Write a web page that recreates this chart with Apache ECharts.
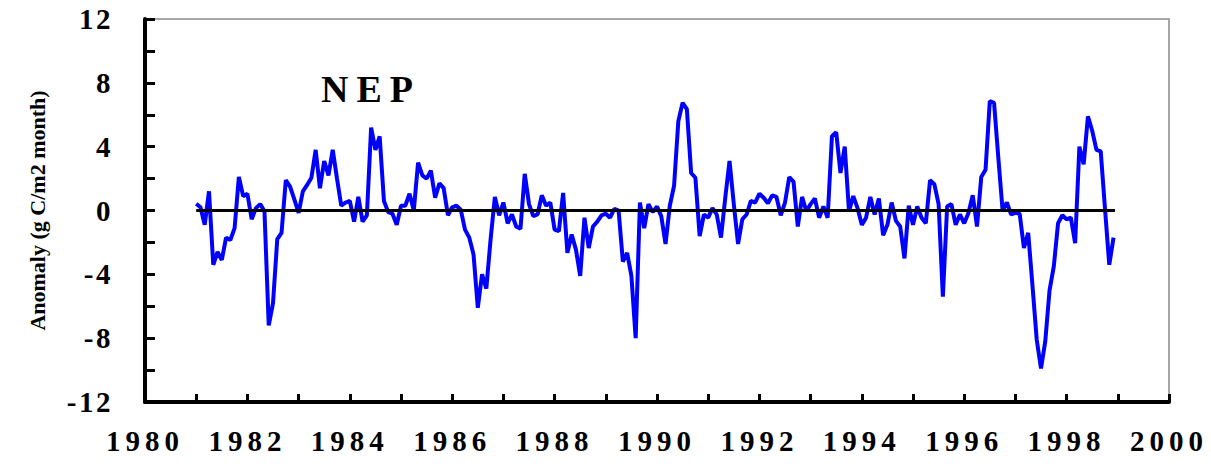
<!DOCTYPE html>
<html>
<head>
<meta charset="utf-8">
<script src="https://cdn.jsdelivr.net/npm/echarts@6/dist/echarts.min.js"></script>
<style>
  html, body { margin: 0; padding: 0; background: #ffffff; }
  #chart { width: 1211px; height: 468px; }
</style>
</head>
<body>
<div id="chart"></div>
<script>
// Monthly NEP anomaly series, January 1981 to December 1998 (g C/m2 month)
const startYear = 1981;
const nepAnomaly = [
  // 1981
  0.42, 0.2, -0.9, 1.2, -3.4, -2.6, -3.1, -1.7, -1.85, -1.1, 2.1, 0.9,
  // 1982
  1.05, -0.55, 0.15, 0.4, -0.05, -7.2, -5.8, -1.8, -1.4, 1.9, 1.5, 0.7,
  // 1983
  -0.15, 1.2, 1.6, 2.05, 3.8, 1.4, 3.1, 2.2, 3.8, 2.0, 0.3, 0.5,
  // 1984
  0.6, -0.7, 0.85, -0.7, -0.3, 5.2, 3.8, 4.65, 0.6, -0.1, -0.2, -0.9,
  // 1985
  0.3, 0.3, 1.05, 0.0, 3.0, 2.2, 2.0, 2.5, 0.8, 1.7, 1.4, -0.3,
  // 1986
  0.2, 0.3, 0.05, -1.2, -1.7, -2.75, -6.1, -4.0, -4.9, -1.8, 0.85, -0.3,
  // 1987
  0.5, -0.8, -0.25, -1.0, -1.15, 2.3, 0.4, -0.35, -0.25, 0.95, 0.3, 0.5,
  // 1988
  -1.2, -1.3, 1.1, -2.65, -1.5, -2.45, -4.1, -0.45, -2.35, -1.0, -0.7, -0.3,
  // 1989
  -0.2, -0.45, 0.1, 0.0, -3.2, -2.65, -4.1, -8.0, 0.5, -1.1, 0.4, -0.1,
  // 1990
  0.25, -0.35, -2.1, 0.3, 1.55, 5.6, 6.75, 6.35, 2.35, 2.05, -1.6, -0.25,
  // 1991
  -0.45, 0.15, -0.25, -1.7, 0.8, 3.1, 0.4, -2.1, -0.55, -0.25, 0.6, 0.5,
  // 1992
  1.05, 0.8, 0.45, 0.95, 0.85, -0.3, 0.5, 2.1, 1.8, -1.0, 0.85, -0.05,
  // 1993
  0.4, 0.75, -0.45, 0.25, -0.45, 4.65, 4.9, 2.35, 4.0, -0.05, 0.9, 0.15,
  // 1994
  -0.9, -0.45, 0.85, -0.25, 0.75, -1.55, -0.9, 0.5, -0.65, -1.0, -3.0, 0.3,
  // 1995
  -0.9, 0.25, -0.45, -0.8, 1.9, 1.65, 0.4, -5.4, 0.25, 0.4, -0.9, -0.25,
  // 1996
  -0.8, -0.15, 0.95, -1.0, 2.1, 2.55, 6.85, 6.75, 3.3, 0.0, 0.5, -0.25,
  // 1997
  -0.15, -0.2, -2.35, -1.4, -4.7, -8.1, -9.9, -8.2, -5.0, -3.5, -0.8, -0.3,
  // 1998
  -0.55, -0.45, -2.05, 4.0, 2.9, 5.9, 5.0, 3.8, 3.7, 0.1, -3.4, -1.7
];
const baseline = 0;
const xTickLabels = ['1980', '1982', '1984', '1986', '1988', '1990', '1992', '1994', '1996', '1998', '2000'];
const yTickLabels = ['-12', '-8', '-4', '0', '4', '8', '12'];
const panelTitle = 'NEP';
const yAxisTitle = 'Anomaly (g C/m2 month)';

const serif = "'Liberation Serif', 'Times New Roman', serif";

// [decimal year, value] pairs for the monthly series
const nepPoints = nepAnomaly.map((v, i) => [startYear + i / 12, v]);
const baselinePoints = [
  [nepPoints[0][0], baseline],
  [nepPoints[nepPoints.length - 1][0] + 0.03, baseline]
];

const chart = echarts.init(document.getElementById('chart'), null, { renderer: 'svg' });

chart.setOption({
  animation: false,
  backgroundColor: '#ffffff',
  grid: {
    left: 145, right: 42, top: 19, bottom: 66,
    show: true, borderColor: '#a6a6a6', borderWidth: 2, backgroundColor: 'transparent'
  },
  xAxis: {
    type: 'value',
    min: 1980, max: 2000, interval: 1,
    axisLine: { onZero: false, lineStyle: { color: '#000', width: 4 } },
    axisTick: { inside: true, length: 8, lineStyle: { color: '#000', width: 3 } },
    splitLine: { show: false },
    axisLabel: {
      margin: 24,
      fontFamily: serif, fontWeight: 'bold', fontSize: 29, color: '#000',
      formatter: v => xTickLabels.includes(String(v)) ? String(v) : ''
    }
  },
  yAxis: {
    type: 'value',
    min: -12, max: 12, interval: 2,
    name: yAxisTitle,
    nameLocation: 'middle',
    nameGap: 97,
    nameTextStyle: { fontFamily: serif, fontWeight: 'bold', fontSize: 22, color: '#000' },
    axisLine: { lineStyle: { color: '#000', width: 4 } },
    axisTick: { inside: true, length: 10, lineStyle: { color: '#000', width: 3 } },
    splitLine: { show: false },
    axisLabel: {
      margin: 32,
      fontFamily: serif, fontWeight: 'bold', fontSize: 29, color: '#000',
      formatter: v => yTickLabels.includes(String(v)) ? String(v) : ''
    }
  },
  graphic: [{
    type: 'text',
    left: 321, top: 70,
    style: { text: panelTitle, font: "bold 38px 'Liberation Serif', 'Times New Roman', serif", fill: '#000' }
  }],
  series: [
    {
      type: 'line',
      data: nepPoints,
      showSymbol: false,
      z: 2,
      lineStyle: { color: '#0000ff', width: 4 }
    },
    {
      type: 'line',
      data: baselinePoints,
      showSymbol: false,
      z: 3,
      lineStyle: { color: '#000000', width: 3 }
    }
  ]
});

// Widen the character spacing of the bold serif labels
function spaceLabels() {
  document.querySelectorAll('#chart svg text').forEach(t => {
    const s = t.textContent.trim();
    if (s === panelTitle) t.style.letterSpacing = '8px';
    else if (xTickLabels.includes(s) && s.length === 4) t.style.letterSpacing = '5px';
    else if (yTickLabels.includes(s)) t.style.letterSpacing = '2.5px';
  });
}
chart.on('finished', spaceLabels);
spaceLabels();
</script>
</body>
</html>
